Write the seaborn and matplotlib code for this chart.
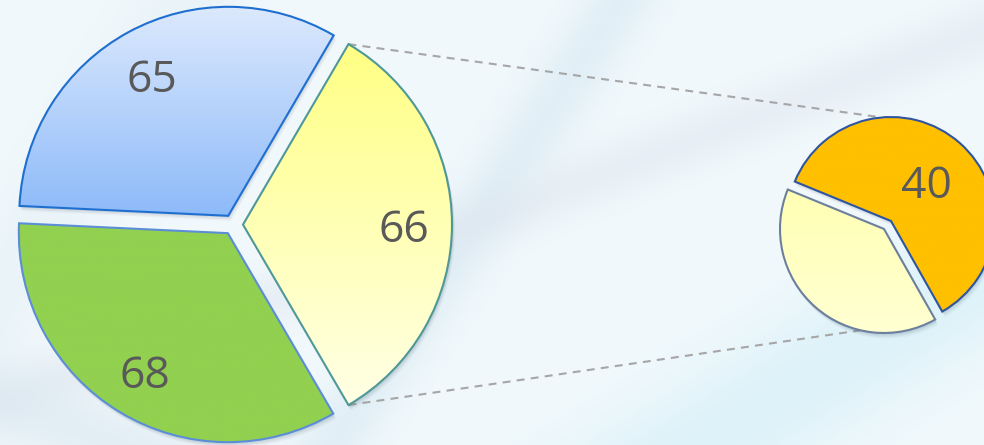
import numpy as np
import matplotlib.pyplot as plt
import seaborn as sns
from matplotlib.colors import LinearSegmentedColormap, to_rgb
from matplotlib.patches import Wedge

# ==============================
# DATA
# ==============================
main_values = [65, 68, 66]          # last slice is split into the small pie
sub_values = [40, 26]
sub_labels = ["40", ""]

# ==============================
# STYLE
# ==============================
main_tops = ["#dce9fd", "#92d050", "#ffff84"]
main_bottoms = ["#8dbaf9", "#92d050", "#ffffe6"]
main_edges = ["#1f6fd0", "#5b8ed6", "#4f9898"]
sub_tops = ["#ffc000", "#ffffb4"]
sub_bottoms = ["#ffc000", "#ffffd2"]
sub_edges = ["#2f55a0", "#6c7f9c"]
text_color = "#595959"

sns.set_theme(style="white")
plt.rcParams["font.family"] = ["Open Sans", "DejaVu Sans"]

W, H = 984, 445
fig = plt.figure(figsize=(W / 100, H / 100), dpi=100)
ax = fig.add_axes([0, 0, 1, 1])

# ==============================
# BACKGROUND (soft light-blue texture)
# ==============================
yy, xx = np.mgrid[0:H, 0:W].astype(float)
bg = np.ones((H, W, 3)) * np.array(to_rgb("#f2f9fc"))


def band(x0, y0, x1, y1, width, color, strength):
    global bg
    dx, dy = x1 - x0, y1 - y0
    n = np.hypot(dx, dy)
    d = np.abs((xx - x0) * dy - (yy - y0) * dx) / n
    w = strength * np.exp(-(d / width) ** 2)
    bg = bg * (1 - w[..., None]) + np.array(to_rgb(color)) * w[..., None]


band(-200, 600, 250, -100, 50, "#e4eff6", 0.6)
band(330, 445, 620, 0, 35, "#d6e8f2", 0.6)
band(560, 190, 984, 30, 28, "#dde4ee", 0.5)
band(700, 445, 1100, 200, 70, "#d4eff8", 0.7)
band(0, 400, 120, 445, 40, "#d9e7f0", 0.6)

ax.imshow(bg, extent=(0, W, 0, H), origin="upper", zorder=0, aspect="auto")


def gradient_fill(wedge, top, bottom):
    ext = wedge.get_path().get_extents()
    cmap = LinearSegmentedColormap.from_list("g", [bottom, top])
    grad = np.linspace(0, 1, 256).reshape(-1, 1)
    im = ax.imshow(grad, cmap=cmap, origin="lower", aspect="auto",
                   extent=(ext.x0, ext.x1, ext.y0, ext.y1), zorder=1.5)
    im.set_clip_path(wedge)
    wedge.set_facecolor("none")
    wedge.set_zorder(2)


def add_shadow(wedge):
    for k, a in [(5, 0.05), (3.5, 0.07), (2, 0.09)]:
        s = Wedge((wedge.center[0] + k * 0.5, wedge.center[1] - k),
                  wedge.r + 0.5, wedge.theta1, wedge.theta2,
                  facecolor="#44566a", edgecolor="none", alpha=a, zorder=1.2)
        ax.add_patch(s)


# ==============================
# MAIN PIE
# ==============================
main_total = sum(main_values)
main_start = -360 * (sum(main_values[:-1]) + main_values[-1] / 2) / main_total

main_wedges, _, main_texts = ax.pie(
    main_values,
    center=(233, 220.4),
    radius=209,
    explode=[10] * len(main_values),
    startangle=main_start,
    autopct=lambda p: f"{p * main_total / 100:.0f}",
    pctdistance=0.77,
    textprops=dict(fontsize=32, color=text_color),
)
for w, t, b, e in zip(main_wedges, main_tops, main_bottoms, main_edges):
    w.set_edgecolor(e)
    w.set_linewidth(1.5)
    add_shadow(w)
    gradient_fill(w, t, b)

# ==============================
# SECONDARY PIE
# ==============================
sub_total = sum(sub_values)
sub_wedges, _, sub_texts = ax.pie(
    sub_values,
    center=(887.5, 220),
    radius=104,
    explode=[5.3] * len(sub_values),
    startangle=-60.5,
    autopct=lambda p: f"{p * sub_total / 100:.0f}" if p > 50 else "",
    pctdistance=0.52,
    textprops=dict(fontsize=32, color=text_color),
)
for w, t, b, e in zip(sub_wedges, sub_tops, sub_bottoms, sub_edges):
    w.set_edgecolor(e)
    w.set_linewidth(1.5)
    add_shadow(w)
    gradient_fill(w, t, b)

# nudge labels down a little (digits have no descenders)
for t in list(main_texts) + list(sub_texts):
    x, y = t.get_position()
    t.set_position((x, y - 6))

# ==============================
# CONNECTOR LINES
# ==============================
src = main_wedges[-1]


def point(wedge, ang):
    a = np.deg2rad(ang)
    return (wedge.center[0] + wedge.r * np.cos(a),
            wedge.center[1] + wedge.r * np.sin(a))


for p_from, p_to in [(point(src, src.theta2), point(sub_wedges[0], 95)),
                     (point(src, src.theta1), point(sub_wedges[1], 257))]:
    ax.plot([p_from[0], p_to[0]], [p_from[1], p_to[1]], color="#a6a6a6",
            lw=1.5, ls=(0, (3.8, 3)), zorder=1.1)

ax.set_xlim(0, W)
ax.set_ylim(0, H)
ax.set_aspect("auto")
ax.axis("off")

fig.savefig("out.png", dpi=100)
plt.close(fig)
